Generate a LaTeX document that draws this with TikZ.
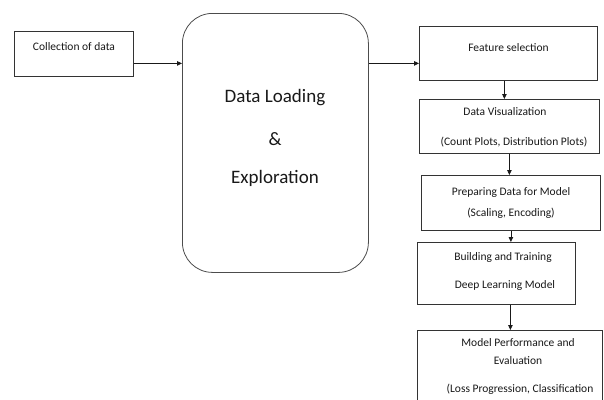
\documentclass[tikz,border=0pt]{standalone}
\usepackage{fontspec}
\setmainfont{Carlito}
\usetikzlibrary{arrows.meta}
\begin{document}
\begin{tikzpicture}[x=1pt,y=-1pt,
  box/.style={draw=black!80, line width=0.8pt, inner sep=0pt, anchor=north west},
  lbl/.style={font=\fontsize{11.5}{13}\selectfont, inner sep=0pt, text=black!90},
  big/.style={font=\fontsize{19}{22}\selectfont, inner sep=0pt, text=black!90},
  arr/.style={-{Triangle[length=5pt,width=4.5pt]}, line width=0.8pt, draw=black!90}]
\clip (0,0) rectangle (604,399);
\path[use as bounding box] (0,0) rectangle (604,399);
\fill[white] (0,0) rectangle (604,399);
% boxes
\node[box, minimum width=119pt, minimum height=45pt] (col) at (14,31) {};
\node[box, draw=black!70, minimum width=186pt, minimum height=259pt, rounded corners=30pt] (load) at (182,13) {};
\node[box, minimum width=178pt, minimum height=54pt] (feat) at (419,26) {};
\node[box, minimum width=180pt, minimum height=54pt] (vis) at (419,99) {};
\node[box, minimum width=179pt, minimum height=55pt] (prep) at (421,175) {};
\node[box, minimum width=158pt, minimum height=62pt] (build) at (417,242) {};
\node[box, minimum width=185pt, minimum height=100pt] (model) at (417,330) {};
% texts
\node[lbl] (tcol) at (74,47) {Collection of data};
\node[big] (tl1) at (275,98) {Data Loading};
\node[big] (tl2) at (275,139) {\&};
\node[big] (tl3) at (275,178) {Exploration};
\node[lbl] (tf) at (508.5,48) {Feature selection};
\node[lbl] (tv1) at (505,112) {Data Visualization};
\node[lbl] (tv2) at (514,142) {(Count Plots, Distribution Plots)};
\node[lbl] (tp1) at (511,192) {Preparing Data for Model};
\node[lbl] (tp2) at (511,213) {(Scaling, Encoding)};
\node[lbl] (tb1) at (503,257) {Building and Training};
\node[lbl] (tb2) at (505,285) {Deep Learning Model};
\node[lbl] (tm1) at (518,343) {Model Performance and};
\node[lbl] (tm2) at (518,361) {Evaluation};
\node[lbl] (tm3) at (520,389) {(Loss Progression, Classification};
% arrows
\coordinate (a1) at ([yshift=-9.5pt]col.east);
\draw[arr] (a1) -- (a1 -| load.west);
\coordinate (a2) at ([yshift=-10pt]feat.west);
\draw[arr] (a2 -| load.east) -- (a2);
\coordinate (a3) at ([xshift=-4pt]feat.south);
\draw[arr] (a3) -- (a3 |- vis.north);
\coordinate (a4) at (vis.south);
\draw[arr] (a4) -- (a4 |- prep.north);
\coordinate (a5) at (prep.south);
\draw[arr] (a5) -- (a5 |- build.north);
\coordinate (a6) at ([xshift=14pt]build.south);
\draw[arr] (a6) -- (a6 |- model.north);
\end{tikzpicture}
\end{document}
